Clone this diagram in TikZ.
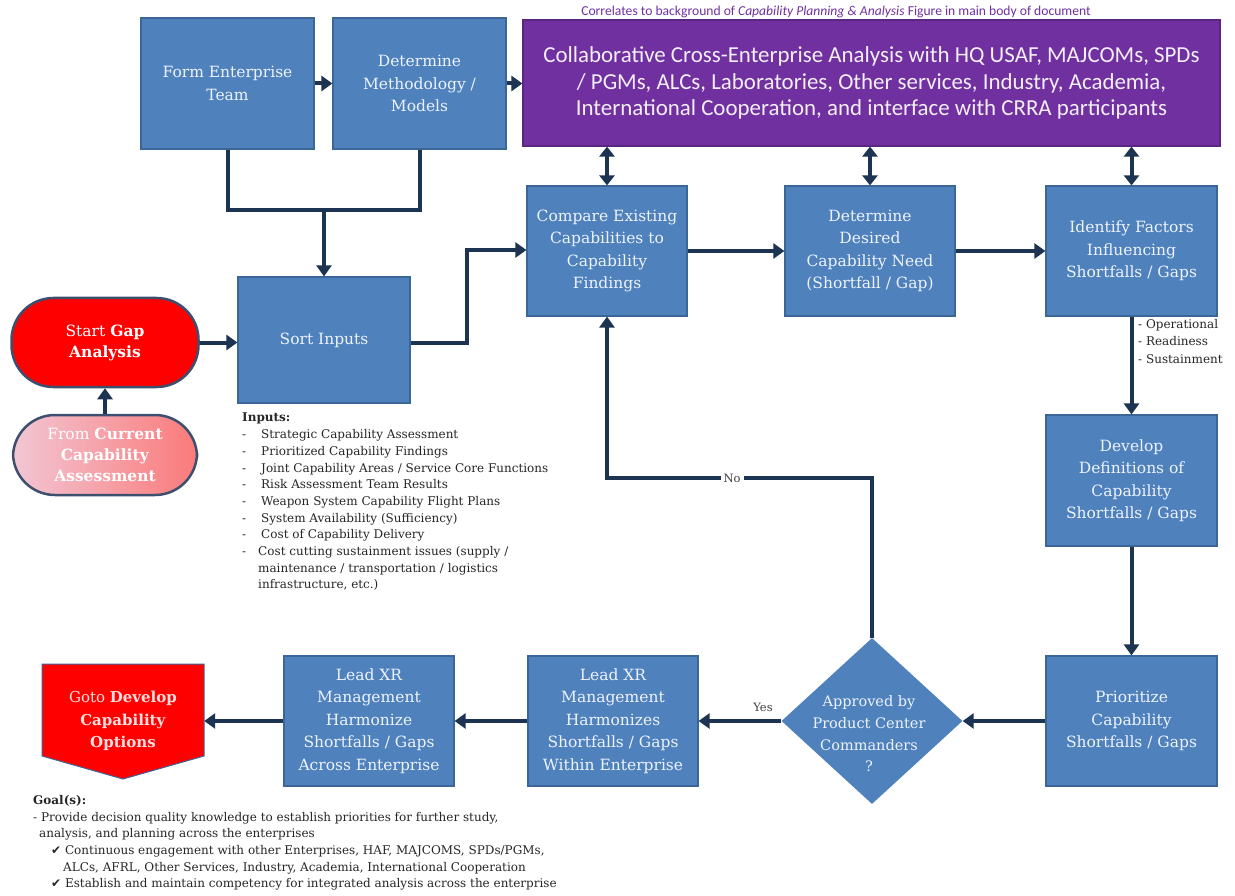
\documentclass[tikz,border=0pt]{standalone}
\usepackage{fontspec}
\setmainfont{DejaVu Serif}
\newfontfamily\calib{Carlito}
\newfontfamily\symb{DejaVu Sans}
\usetikzlibrary{arrows.meta,shapes.geometric,calc}

\definecolor{boxblue}{HTML}{4F81BD}
\definecolor{boxedge}{HTML}{3A6698}
\definecolor{navy}{HTML}{1C3352}
\definecolor{violet}{HTML}{7030A0}
\definecolor{alarm}{HTML}{FF0000}
\definecolor{pilledge}{HTML}{3D4F6E}
\definecolor{boxtext}{HTML}{EEF3FB}
\definecolor{pinkleft}{RGB}{242,198,212}
\definecolor{pinkright}{RGB}{250,122,122}

\tikzset{
  stepbox/.style={rectangle, fill=boxblue, draw=boxedge, line width=1.2pt,
    text=boxtext, align=center, inner sep=2pt,
    font=\fontsize{15.5}{22.5}\selectfont},
  pill/.style={rectangle, rounded corners=42pt, draw=pilledge, line width=2.5pt,
    text=white, align=center, font=\fontsize{15.5}{21}\selectfont},
  flow/.style={draw=navy, line width=4pt, -{Triangle[length=11pt,width=15pt]}},
  link/.style={draw=navy, line width=4pt},
  both/.style={draw=navy, line width=4pt,
    {Triangle[length=10pt,width=15pt]}-{Triangle[length=10pt,width=15pt]}},
  note/.style={font=\fontsize{12}{16.7}\selectfont, align=left,
    anchor=north west, inner sep=0pt, text=black!85},
  tag/.style={font=\fontsize{11.5}{13}\selectfont, text=black!75, inner sep=3pt},
}

\begin{document}
\begin{tikzpicture}[x=1pt, y=-1pt]
\useasboundingbox (0,0) rectangle (1235,896);

% ---- top row ----
\node[stepbox, minimum width=173pt, minimum height=131pt] (form) at (227.5,83.5) {Form Enterprise\\Team};
\node[stepbox, minimum width=173pt, minimum height=131pt] (meth) at (419.5,83.5) {Determine\\Methodology /\\Models};
\node[rectangle, fill=violet, draw=violet!80!black, line width=1.2pt, text=white!92!violet,
      align=center, minimum width=697pt, minimum height=126pt,
      font=\calib\fontsize{22.9}{26.5}\selectfont] (collab) at (871.5,83)
  {Collaborative Cross-Enterprise Analysis with HQ USAF, MAJCOMs, SPDs\\
   / PGMs, ALCs, Laboratories, Other services, Industry, Academia,\\
   International Cooperation, and interface with CRRA participants};
\node[text=violet, font=\calib\fontsize{13.6}{15}\selectfont, inner sep=0pt] (corr) at (836,12)
  {Correlates to background of \textit{Capability Planning \& Analysis} Figure in main body of document};

% ---- second row ----
\node[stepbox, minimum width=160pt, minimum height=130pt] (cmp) at (607,251) {Compare Existing\\Capabilities to\\Capability\\Findings};
\node[stepbox, minimum width=170pt, minimum height=130pt] (need) at (870,251) {Determine\\Desired\\Capability Need\\(Shortfall / Gap)};
\node[stepbox, minimum width=171pt, minimum height=130pt] (factors) at (1131.5,251) {Identify Factors\\Influencing\\Shortfalls / Gaps};

% ---- inputs ----
\node[stepbox, minimum width=172pt, minimum height=126pt] (sort) at (324,340) {Sort Inputs};
\node[pill, fill=alarm, minimum width=187pt, minimum height=89pt] (start) at (105,342.5)
  {Start \textbf{Gap}\\\textbf{Analysis}};
\node[pill, left color=pinkleft, right color=pinkright, minimum width=184pt, minimum height=80pt,
      font=\fontsize{15.5}{21}\selectfont] (current) at (105,455)
  {From \textbf{Current}\\\textbf{Capability}\\\textbf{Assessment}};

% ---- right column ----
\node[stepbox, minimum width=171pt, minimum height=131pt] (define) at (1131.5,480.5) {Develop\\Definitions of\\Capability\\Shortfalls / Gaps};
\node[stepbox, minimum width=171pt, minimum height=130pt] (prio) at (1131.5,721) {Prioritize\\Capability\\Shortfalls / Gaps};

% ---- bottom row ----
\node[diamond, fill=boxblue, inner sep=0pt, minimum width=181pt, minimum height=166pt] (approve) at (872,721) {};
\node[text=boxtext, align=center, inner sep=0pt, font=\fontsize{14.5}{21.7}\selectfont] (approvetext) at (869,734)
  {Approved by\\Product Center\\Commanders\\?};
\node[stepbox, minimum width=170pt, minimum height=130pt] (within) at (613,721)
  {Lead XR\\Management\\Harmonizes\\Shortfalls / Gaps\\Within Enterprise};
\node[stepbox, minimum width=170pt, minimum height=130pt] (across) at (369,721)
  {Lead XR\\Management\\Harmonize\\Shortfalls / Gaps\\Across Enterprise};

% off-page connector: box with a downward point
\fill[alarm, draw=boxedge, line width=1pt] (42,664) -- (204,664) -- (204,756) -- (123,779) -- (42,756) -- cycle;
\node[rectangle, minimum width=162pt, text=white!88!red, align=center, inner sep=0pt,
      font=\fontsize{15}{22.5}\selectfont] (goto) at (123,721)
  {Goto \textbf{Develop}\\\textbf{Capability}\\\textbf{Options}};

% ---- connectors ----
\coordinate (join) at (324,210);
\coordinate (bendA) at (467,343);
\coordinate (bendB) at (467,250);
\coordinate (loopR) at (872,478);
\coordinate (loopL) at (607,478);

\draw[flow] (form.east) -- (meth.west);
\draw[flow] (meth.east) -- (meth.east -| collab.west);
\draw[link] (form.south) |- (join);
\draw[link] (meth.south) |- (join);
\draw[flow] (join) -- (sort.north);
\draw[flow] (current.north) -- (start.south);
\draw[flow] (start.east) -- (start.east -| sort.west);
\draw[flow] (sort.east |- bendA) -- (bendA) -- (bendB) -- (bendB -| cmp.west);
\draw[flow] (cmp.east) -- (need.west);
\draw[flow] (need.east) -- (factors.west);
\draw[both] (cmp.north) -- (cmp.north |- collab.south);
\draw[both] (need.north) -- (need.north |- collab.south);
\draw[both] (factors.north) -- (factors.north |- collab.south);
\draw[flow] (factors.south) -- (define.north);
\draw[flow] (define.south) -- (prio.north);
\draw[flow] (prio.west) -- (approve.east);
\draw[flow] (approve.north) -- (loopR) -- (loopL) -- (cmp.south);
\node[tag, fill=white] (no) at (732,478) {No};
\draw[flow] (approve.west) -- (within.east);
\node[tag] (yes) at (763,707) {Yes};
\draw[flow] (within.west) -- (across.east);
\draw[flow] (across.west) -- (goto.east);

% ---- notes ----
\node[note, font=\fontsize{12}{17.5}\selectfont] (aspects) at (1138,319)
  {- Operational\\- Readiness\\- Sustainment};

\node[note] (inputs) at (242,413)
  {\textbf{Inputs:}\\
   \makebox[19pt][l]{-}Strategic Capability Assessment\\
   \makebox[19pt][l]{-}Prioritized Capability Findings\\
   \makebox[19pt][l]{-}Joint Capability Areas / Service Core Functions\\
   \makebox[19pt][l]{-}Risk Assessment Team Results\\
   \makebox[19pt][l]{-}Weapon System Capability Flight Plans\\
   \makebox[19pt][l]{-}System Availability (Sufficiency)\\
   \makebox[19pt][l]{-}Cost of Capability Delivery\\
   \makebox[16pt][l]{-}Cost cutting sustainment issues (supply /\\
   \hspace*{16pt}maintenance / transportation / logistics\\
   \hspace*{16pt}infrastructure, etc.)};

\node[note] (goals) at (33,795)
  {\textbf{Goal(s):}\\
   - Provide decision quality knowledge to establish priorities for further study,\\
   \hspace*{6pt}analysis, and planning across the enterprises\\
   \hspace*{18pt}{\symb ✔}\ Continuous engagement with other Enterprises, HAF, MAJCOMS, SPDs/PGMs,\\
   \hspace*{30pt}ALCs, AFRL, Other Services, Industry, Academia, International Cooperation\\
   \hspace*{18pt}{\symb ✔}\ Establish and maintain competency for integrated analysis across the enterprise};
\end{tikzpicture}
\end{document}
